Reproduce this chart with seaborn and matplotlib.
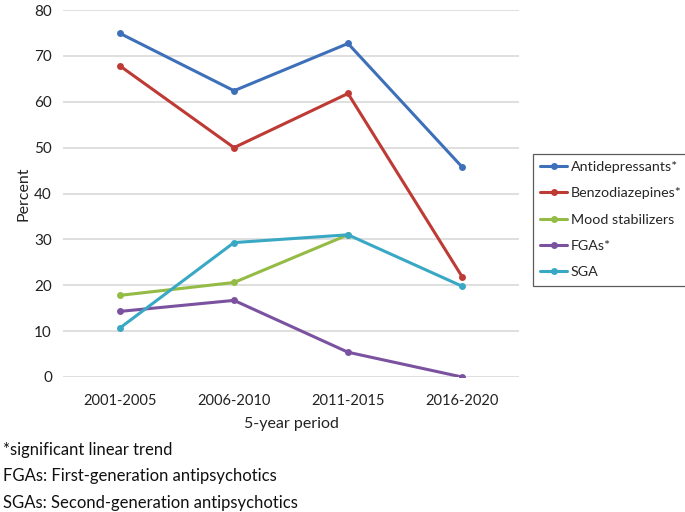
import numpy as np
import pandas as pd
import matplotlib
matplotlib.use("Agg")
import matplotlib.pyplot as plt
import seaborn as sns

periods = ["2001-2005", "2006-2010", "2011-2015", "2016-2020"]
antidepressants = [74.9, 62.4, 72.7, 45.8]
benzodiazepines = [67.8, 50.0, 61.8, 21.9]
mood_stabilizers = [17.8, 20.6, 31.0]
fgas = [14.3, 16.7, 5.4, 0.0]
sga = [10.7, 29.3, 31.0, 19.8]
series_names = ["Antidepressants*", "Benzodiazepines*", "Mood stabilizers", "FGAs*", "SGA"]
colors = ["#3E70BA", "#BE3A34", "#94BB45", "#7A52A0", "#38A8C4"]
notes = ["*significant linear trend",
         "FGAs: First-generation antipsychotics",
         "SGAs: Second-generation antipsychotics"]

rows = []
for name, vals in zip(series_names, [antidepressants, benzodiazepines, mood_stabilizers, fgas, sga]):
    for p, v in zip(periods, vals):
        rows.append({"period": p, "value": v, "series": name})
df = pd.DataFrame(rows)
df["x"] = df["period"].map({p: i for i, p in enumerate(periods)})

sns.set_theme(style="white")
plt.rcParams["font.family"] = ["Lato", "DejaVu Sans"]

fig = plt.figure(figsize=(6.85, 5.12), dpi=100)
ax = fig.add_axes([63/685, 1 - 377/512, (519-63)/685, (377-10)/512])

sns.lineplot(data=df, x="x", y="value", hue="series", hue_order=series_names,
             palette=colors, marker="o", markersize=5, markeredgewidth=0,
             linewidth=2.2, ax=ax, sort=False, legend=True)

ax.set_xlim(-0.5, 3.5)
ax.set_ylim(0, 80)
ax.set_yticks(range(0, 81, 10))
ax.set_xticks(range(len(periods)))
ax.set_xticklabels(periods, fontsize=10.5, color="#222222")
ax.tick_params(axis="y", labelsize=11, labelcolor="#222222", length=0, pad=8)
ax.tick_params(axis="x", length=0, pad=12)
ax.yaxis.grid(True, color="#D9D9D9", linewidth=1.2)
ax.set_axisbelow(True)
for s in ax.spines.values():
    s.set_visible(False)
ax.set_xlabel("5-year period", fontsize=11.5, color="#222222", labelpad=7)
ax.set_ylabel("Percent", fontsize=11.5, color="#222222", labelpad=2.5)

handles, labels = ax.get_legend_handles_labels()
leg = ax.legend(handles, labels, loc="upper left", bbox_to_anchor=(533/685, 1 - 154/512),
                bbox_transform=fig.transFigure, frameon=True, fancybox=False,
                fontsize=10.3, handlelength=1.9, handletextpad=0.25, labelspacing=1.0,
                borderpad=0.5, borderaxespad=0)
leg.get_frame().set_edgecolor("#333333")
leg.get_frame().set_linewidth(0.9)

for i, t in enumerate(notes):
    fig.text(3/685, 1 - (450 + i*26.5)/512, t, fontsize=12, color="#111111",
             va="center", ha="left")

fig.savefig("out.png", dpi=100)
